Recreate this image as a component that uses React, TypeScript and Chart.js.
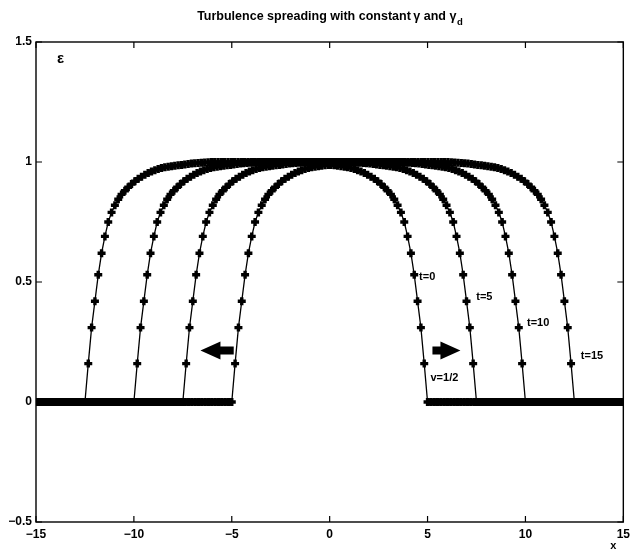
import { useEffect, useRef } from "react";
import { Chart, registerables } from "chart.js";

Chart.register(...registerables);

// ---- data ----
const CURVE_LABELS = ["t=0", "t=5", "t=10", "t=15"];
// position of the turbulence front (half width of the patch) for each time
const FRONT_X = [5, 7.5, 10, 12.5];
// spacing of the plotted grid points (x units)
const GRID_STEP = 0.17;
// epsilon at successive grid points counted inward from the front edge
const FRONT_PROFILE = [
  0, 0.16, 0.31, 0.42, 0.53, 0.62, 0.69, 0.75, 0.79, 0.82,
  0.845, 0.865, 0.88, 0.895, 0.908, 0.92, 0.93, 0.939, 0.947, 0.954,
  0.96, 0.966, 0.971, 0.975, 0.978, 0.98, 0.982, 0.984, 0.986, 0.988,
  0.99, 0.992, 0.994, 0.995, 0.996, 0.997, 0.998, 0.999, 1.0,
];
const PLATEAU = 1.0;
const BASELINE = 0;
const X_TICKS = [-15, -10, -5, 0, 5, 10, 15];
const Y_TICKS = [-0.5, 0, 0.5, 1, 1.5];

// annotation anchor points (data units)
const CURVE_LABEL_POS = [
  { x: 4.98, y: 0.52 },
  { x: 7.9, y: 0.437 },
  { x: 10.65, y: 0.328 },
  { x: 13.4, y: 0.19 },
];
const SPEED_LABEL = { text: "v=1/2", x: 5.86, y: 0.1 };
const LEFT_ARROW = { tail: -4.9, tip: -6.6, y: 0.215 };
const RIGHT_ARROW = { tail: 5.25, tip: 6.68, y: 0.215 };
const EPS_POS = { x: -13.75, y: 1.43 };

const FONT = '"Liberation Sans", Arial, Helvetica, sans-serif';

function profileAt(k: number): number {
  return k < FRONT_PROFILE.length ? FRONT_PROFILE[k] : PLATEAU;
}

function buildCurve(L: number) {
  const pts: { x: number; y: number }[] = [];
  const nBase = Math.floor((15 - L) / GRID_STEP + 1e-9);
  for (let k = nBase; k >= 1; k--) pts.push({ x: -L - k * GRID_STEP, y: BASELINE });
  const nIn = Math.floor(L / GRID_STEP);
  for (let k = 0; k <= nIn; k++) pts.push({ x: -L + k * GRID_STEP, y: profileAt(k) });
  for (let k = nIn; k >= 0; k--) pts.push({ x: L - k * GRID_STEP, y: profileAt(k) });
  for (let k = 1; k <= nBase; k++) pts.push({ x: L + k * GRID_STEP, y: BASELINE });
  return pts;
}

const fmt = (v: number) => (v < 0 ? "\u2212" + String(Math.abs(v)) : String(v));

const overlay = {
  id: "overlay",
  afterDraw(chart: any) {
    const { ctx, chartArea: a, scales } = chart;
    const xs = scales.x;
    const ys = scales.y;
    const px = (v: number) => xs.getPixelForValue(v);
    const py = (v: number) => ys.getPixelForValue(v);
    ctx.save();
    ctx.strokeStyle = "#000";
    ctx.fillStyle = "#000";
    // frame
    ctx.lineWidth = 1.4;
    ctx.strokeRect(a.left, a.top, a.right - a.left, a.bottom - a.top);
    // inward ticks
    ctx.lineWidth = 1.2;
    ctx.beginPath();
    for (const v of X_TICKS) {
      const x = px(v);
      ctx.moveTo(x, a.bottom);
      ctx.lineTo(x, a.bottom - 6);
      ctx.moveTo(x, a.top);
      ctx.lineTo(x, a.top + 6);
    }
    for (const v of Y_TICKS) {
      const y = py(v);
      ctx.moveTo(a.left, y);
      ctx.lineTo(a.left + 6, y);
      ctx.moveTo(a.right, y);
      ctx.lineTo(a.right - 6, y);
    }
    ctx.stroke();

    // title with subscript
    const main = "Turbulence spreading with constant\u2009\u03b3 and \u03b3";
    const sub = "d";
    ctx.font = `bold 12.5px ${FONT}`;
    const w1 = ctx.measureText(main).width;
    ctx.font = `bold 9.5px ${FONT}`;
    const w2 = ctx.measureText(sub).width;
    const cx = (a.left + a.right) / 2;
    const startX = cx - (w1 + w2) / 2;
    ctx.textBaseline = "middle";
    ctx.textAlign = "left";
    ctx.font = `bold 12.5px ${FONT}`;
    ctx.fillText(main, startX, 17);
    ctx.font = `bold 9.5px ${FONT}`;
    ctx.fillText(sub, startX + w1 + 0.5, 22);

    // curve labels
    ctx.textAlign = "center";
    ctx.font = `bold 11px ${FONT}`;
    CURVE_LABELS.forEach((t, i) => {
      ctx.fillText(t, px(CURVE_LABEL_POS[i].x), py(CURVE_LABEL_POS[i].y));
    });
    ctx.fillText(SPEED_LABEL.text, px(SPEED_LABEL.x), py(SPEED_LABEL.y));

    // epsilon
    ctx.font = `bold 15px ${FONT}`;
    ctx.fillText("\u03b5", px(EPS_POS.x), py(EPS_POS.y));

    // x axis label
    ctx.font = `bold 11px ${FONT}`;
    ctx.fillText("x", a.right - 10, a.bottom + 24);

    // arrows
    const arrow = (tail: number, tip: number, yv: number) => {
      const xt = px(tail);
      const xp = px(tip);
      const y = py(yv);
      const dir = xp > xt ? 1 : -1;
      const headLen = 20;
      const xb = xp - dir * headLen;
      ctx.beginPath();
      ctx.moveTo(xp, y);
      ctx.lineTo(xb, y - 9);
      ctx.lineTo(xb, y - 4);
      ctx.lineTo(xt, y - 4);
      ctx.lineTo(xt, y + 4);
      ctx.lineTo(xb, y + 4);
      ctx.lineTo(xb, y + 9);
      ctx.closePath();
      ctx.fill();
    };
    arrow(LEFT_ARROW.tail, LEFT_ARROW.tip, LEFT_ARROW.y);
    arrow(RIGHT_ARROW.tail, RIGHT_ARROW.tip, RIGHT_ARROW.y);
    ctx.restore();
  },
};

export default function App() {
  const ref = useRef<HTMLCanvasElement | null>(null);
  useEffect(() => {
    if (!ref.current) return;
    const datasets = FRONT_X.map((L, i) => ({
      label: CURVE_LABELS[i],
      data: buildCurve(L),
      showLine: true,
      borderColor: "#000",
      borderWidth: 1.3,
      backgroundColor: "#000",
      pointStyle: "cross" as const,
      pointRadius: 4,
      pointBorderWidth: 3.4,
      pointBorderColor: "#000",
      pointBackgroundColor: "#000",
      pointHoverRadius: 4,
      segment: {
        // densely packed markers along the zero baseline read as a solid band
        borderWidth: (c: any) => (c.p0.parsed.y === BASELINE && c.p1.parsed.y === BASELINE ? 7 : 1.3),
      },
    }));
    const chart = new Chart(ref.current, {
      type: "scatter",
      data: { datasets },
      options: {
        animation: false,
        responsive: false,
        devicePixelRatio: 1,
        layout: { padding: { top: 42, right: 8, left: 0, bottom: 0 } },
        plugins: { legend: { display: false }, tooltip: { enabled: false }, title: { display: false } },
        scales: {
          x: {
            type: "linear",
            min: -15,
            max: 15,
            afterFit: (s: any) => {
              s.height = 37;
            },
            afterBuildTicks: (s: any) => {
              s.ticks = X_TICKS.map((v) => ({ value: v }));
            },
            grid: { display: false, drawTicks: false },
            border: { display: false },
            ticks: {
              color: "#000",
              padding: 5,
              maxRotation: 0,
              autoSkip: false,
              font: { family: FONT, size: 12, weight: "bold" },
              callback: (v: any) => fmt(Number(v)),
            },
          },
          y: {
            type: "linear",
            min: -0.5,
            max: 1.5,
            afterFit: (s: any) => {
              s.width = 36;
            },
            afterBuildTicks: (s: any) => {
              s.ticks = Y_TICKS.map((v) => ({ value: v }));
            },
            grid: { display: false, drawTicks: false },
            border: { display: false },
            ticks: {
              color: "#000",
              padding: 4,
              autoSkip: false,
              font: { family: FONT, size: 12, weight: "bold" },
              callback: (v: any) => fmt(Number(v)),
            },
          },
        },
      },
      plugins: [overlay],
    });
    return () => chart.destroy();
  }, []);
  return (
    <div style={{ position: "fixed", left: 0, top: 0, width: 635, height: 559, background: "#fff" }}>
      <canvas ref={ref} width={635} height={559} style={{ width: 635, height: 559, display: "block" }} />
    </div>
  );
}
